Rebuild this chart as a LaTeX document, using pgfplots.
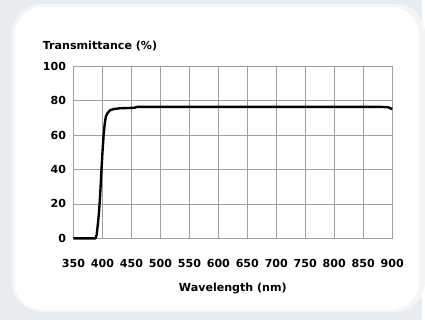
\documentclass[border=0pt]{standalone}
\usepackage{pgfplots}
\pgfplotsset{compat=1.18}
\usepackage{fontspec}
\setmainfont{DejaVu Sans}
\definecolor{bgc}{HTML}{E9ECEF}
\definecolor{gridc}{HTML}{A0A0A0}
\newcommand\lblfont{\fontsize{11.2}{12}\selectfont\bfseries}
\begin{document}
\begin{tikzpicture}[x=1bp,y=1bp]
\fill[bgc] (0,0) rectangle (425,322);
\fill[white!96!black] (12,8) [rounded corners=30] rectangle (428,318);
\fill[white] (15,10) [rounded corners=28] rectangle (422,315);
\begin{axis}[
  at={(74bp,82bp)}, anchor=south west,
  scale only axis, width=321bp, height=173bp,
  xmin=350, xmax=900, ymin=0, ymax=100,
  xtick={350,400,...,900}, ytick={0,20,...,100},
  grid=major,
  major grid style={gridc, line width=0.9pt},
  axis line style={gridc, line width=0.9pt},
  tick style={draw=none},
  ticklabel style={font=\lblfont},
  /pgf/number format/assume math mode=true,
  /pgf/number format/1000 sep={},
  xticklabel style={yshift=-18bp},
  yticklabel style={xshift=-4bp},
  xlabel={Wavelength (nm)},
  xlabel style={font=\lblfont, yshift=-8bp},
  clip=false,
]
\addplot[black, line width=2.4pt, line join=round] coordinates {
(350,0) (388,0) (390,2) (392,8) (394,15) (396,25) (398,38) (400,50) (402,60) (404,67) (406,71) (409,73) (413,74.5) (420,75.3) (430,75.7) (455,76) (460,76.5) (880,76.5) (893,76.3) (900,75.2)
};
\end{axis}
\node[anchor=base west, font=\lblfont, inner sep=0] at (43,272) {Transmittance (\%)};
\end{tikzpicture}
\end{document}
